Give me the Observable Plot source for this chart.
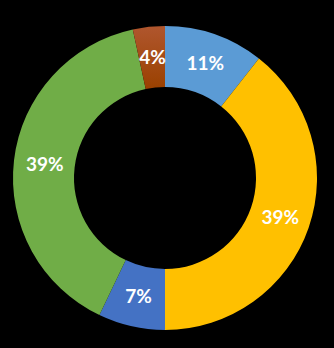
<!DOCTYPE html>
<html><head><meta charset="utf-8">
<script src="https://cdn.jsdelivr.net/npm/d3@7"></script>
<script src="https://cdn.jsdelivr.net/npm/@observablehq/plot@0.6"></script>
<style>
html,body{margin:0;padding:0;background:#000;}
#chart svg{display:block;}
</style></head><body><div id="chart"></div>
<script>
const categories = ["S1", "S2", "S3", "S4", "S5"];
const values = [10.6, 39.4, 7.1, 39.5, 3.4];
const labels = ["11%", "39%", "7%", "39%", "4%"];
const colors = ["#5B9BD5", "#FFC000", "#4472C4", "#70AD47", "url(#brownGrad)"];

const W = 334, H = 348, cx = 165, cy = 178, R = 152, r0 = 91;
const inner = r0 / R;
const pie = d3.pie().sort(null).value(d => d.value);
const data = categories.map((c, i) => ({category: c, value: values[i], label: labels[i], color: colors[i]}));
const arcs = pie(data);
const mid = (1 + inner) / 2;
const labelData = arcs.map(a => {
  const ang = (a.startAngle + a.endAngle) / 2;
  return {x: mid * Math.sin(ang), y: mid * Math.cos(ang), label: a.data.label};
});

const donutMark = (index, scales, values, dims) => {
  const x0 = scales.x(0), y0 = scales.y(0);
  const rad = scales.x(1) - scales.x(0);
  const svg = d3.create("svg:g");
  const defs = svg.append("defs");
  const g = defs.append("linearGradient").attr("id", "brownGrad")
    .attr("x1", 0).attr("y1", 0).attr("x2", 0).attr("y2", 1);
  g.append("stop").attr("offset", "0%").attr("stop-color", "#B0562E");
  g.append("stop").attr("offset", "100%").attr("stop-color", "#9A4100");
  const arcGen = d3.arc().innerRadius(rad * inner).outerRadius(rad);
  svg.append("g").attr("transform", `translate(${x0},${y0})`)
    .selectAll("path").data(arcs).join("path")
    .attr("d", arcGen).attr("fill", d => d.data.color);
  return svg.node();
};

const chart = Plot.plot({
  width: W, height: H,
  margin: 0,
  style: {background: "#000"},
  x: {domain: [-cx / R, (W - cx) / R], range: [0, W], axis: null},
  y: {domain: [cy / R, -(H - cy) / R], range: [0, H], axis: null},
  marks: [
    donutMark,
    Plot.text(labelData, {x: "x", y: "y", text: "label", fill: "#fff",
      fontSize: 19, fontWeight: "bold", fontFamily: "Lato, 'Open Sans', sans-serif"})
  ]
});
document.getElementById("chart").appendChild(chart);
</script></body></html>
